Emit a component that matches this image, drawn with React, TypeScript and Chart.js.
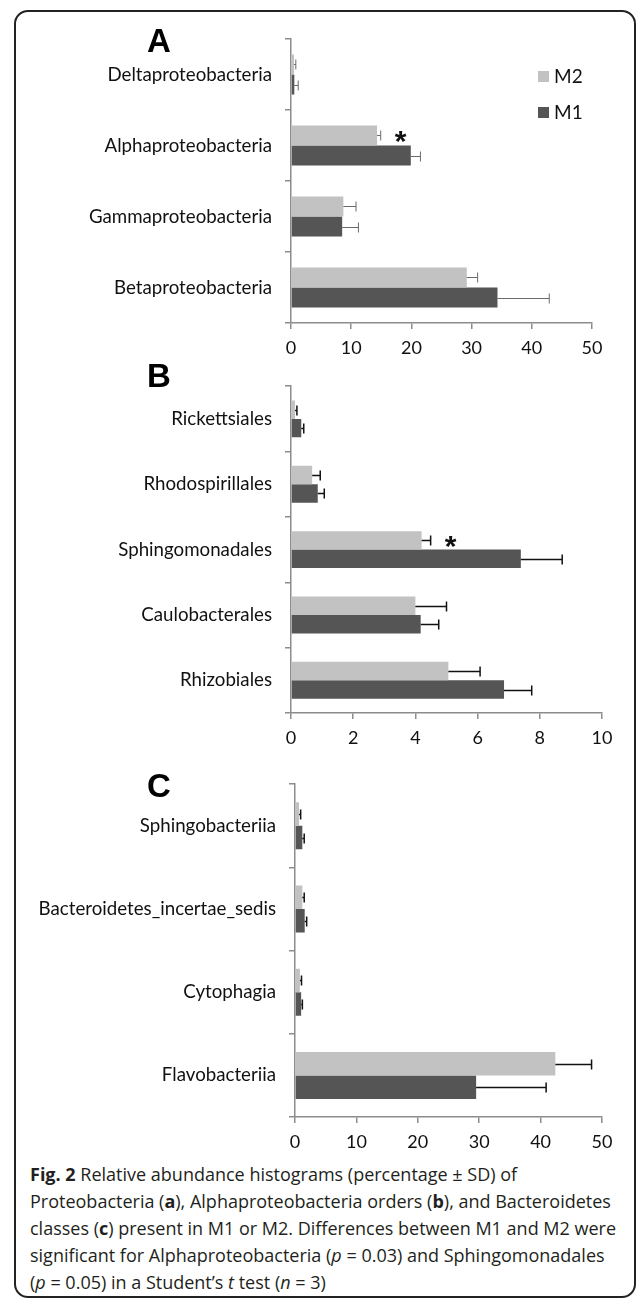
import React, { useEffect, useRef } from 'react';
import { Chart, registerables } from 'chart.js';

Chart.register(...registerables);

const M2_COLOR = '#c2c2c2';
const M1_COLOR = '#555555';
const AXIS_COLOR = '#8c8c8c';
const LABEL_FONT = 'Lato';

// Panel A – Proteobacteria classes
const catsA = ['Deltaproteobacteria', 'Alphaproteobacteria', 'Gammaproteobacteria', 'Betaproteobacteria'];
const m2A = [0.5, 14.3, 8.7, 29.2];
const m2ASd = [0.3, 0.6, 2.1, 1.8];
const m1A = [0.55, 19.9, 8.5, 34.3];
const m1ASd = [0.65, 1.6, 2.7, 8.6];
const ticksA = { max: 50, step: 10 };
const sigA = { index: 1, value: 18.2 };

// Panel B – Alphaproteobacteria orders
const catsB = ['Rickettsiales', 'Rhodospirillales', 'Sphingomonadales', 'Caulobacterales', 'Rhizobiales'];
const m2B = [0.13, 0.68, 4.2, 4.0, 5.06];
const m2BSd = [0.06, 0.26, 0.29, 1.0, 1.02];
const m1B = [0.33, 0.86, 7.39, 4.17, 6.85];
const m1BSd = [0.08, 0.21, 1.33, 0.58, 0.89];
const ticksB = { max: 10, step: 2 };
const sigB = { index: 2, value: 5.13 };

// Panel C – Bacteroidetes classes
const catsC = ['Sphingobacteriia', 'Bacteroidetes_incertae_sedis', 'Cytophagia', 'Flavobacteriia'];
const m2C = [0.66, 1.19, 0.8, 42.4];
const m2CSd = [0.26, 0.31, 0.26, 5.9];
const m1C = [1.19, 1.58, 1.0, 29.5];
const m1CSd = [0.31, 0.32, 0.2, 11.4];
const ticksC = { max: 50, step: 10 };

const seriesNames = ['M2', 'M1'];

const errorBarPlugin = {
  id: 'errorBars',
  afterDatasetsDraw(chart: any, _args: any, opts: any) {
    const ctx = chart.ctx;
    const xs = chart.scales.x;
    ctx.save();
    ctx.strokeStyle = opts.color || '#000';
    ctx.lineWidth = opts.width || 1;
    chart.data.datasets.forEach((ds: any, i: number) => {
      const meta = chart.getDatasetMeta(i);
      meta.data.forEach((bar: any, j: number) => {
        const v = ds.data[j];
        const sd = ds.sd[j];
        const x0 = xs.getPixelForValue(v);
        const x1 = xs.getPixelForValue(v + sd);
        const y = Math.round(bar.y) + 0.5;
        ctx.beginPath();
        ctx.moveTo(x0, y);
        ctx.lineTo(x1, y);
        ctx.moveTo(x1, y - (opts.cap || 5));
        ctx.lineTo(x1, y + (opts.cap || 5));
        ctx.stroke();
      });
    });
    ctx.restore();
  },
};

const sigPlugin = {
  id: 'sigMark',
  afterDatasetsDraw(chart: any, _args: any, opts: any) {
    if (!opts || opts.index === undefined || opts.index < 0) return;
    const ctx = chart.ctx;
    const xs = chart.scales.x;
    const bar = chart.getDatasetMeta(0).data[opts.index];
    if (!bar) return;
    ctx.save();
    ctx.fillStyle = '#111';
    ctx.font = 'bold 30px "Liberation Sans", Arial, sans-serif';
    ctx.textAlign = 'center';
    ctx.textBaseline = 'alphabetic';
    ctx.fillText('*', xs.getPixelForValue(opts.value), bar.y + 16);
    ctx.restore();
  },
};

type PanelProps = {
  top: number;
  height: number;
  padTop: number;
  axisH: number;
  yW: number;
  padRight: number;
  cats: string[];
  m2: number[];
  m2Sd: number[];
  m1: number[];
  m1Sd: number[];
  ticks: { max: number; step: number };
  sig?: { index: number; value: number };
  errColor: string;
  errWidth: number;
};

function Panel(p: PanelProps) {
  const ref = useRef<HTMLCanvasElement | null>(null);
  useEffect(() => {
    if (!ref.current) return;
    const chart = new Chart(ref.current, {
      type: 'bar',
      data: {
        labels: p.cats,
        datasets: [
          { label: seriesNames[0], data: p.m2, sd: p.m2Sd, backgroundColor: M2_COLOR, borderWidth: 0 } as any,
          { label: seriesNames[1], data: p.m1, sd: p.m1Sd, backgroundColor: M1_COLOR, borderWidth: 0 } as any,
        ],
      },
      options: {
        indexAxis: 'y',
        responsive: false,
        animation: false,
        devicePixelRatio: 1,
        layout: { padding: { top: p.padTop, right: p.padRight, left: 0, bottom: 0 } },
        datasets: { bar: { categoryPercentage: 0.565, barPercentage: 1 } },
        plugins: {
          legend: { display: false },
          tooltip: { enabled: false },
          errorBars: { color: p.errColor, width: p.errWidth, cap: 5 },
          sigMark: p.sig ? p.sig : { index: -1, value: 0 },
        } as any,
        scales: {
          x: {
            type: 'linear',
            min: 0,
            max: p.ticks.max,
            ticks: {
              stepSize: p.ticks.step,
              font: { family: LABEL_FONT, size: 18 },
              color: '#111',
              padding: 8,
            },
            grid: { drawOnChartArea: false, drawTicks: true, tickLength: 6, color: AXIS_COLOR, lineWidth: 1.5 },
            border: { display: true, color: AXIS_COLOR, width: 1.5 },
            afterFit: (s: any) => {
              s.height = p.axisH;
            },
          },
          y: {
            type: 'category',
            ticks: {
              font: { family: LABEL_FONT, size: 18.7 },
              color: '#111',
              padding: 13,
              autoSkip: false,
            },
            grid: { drawOnChartArea: false, drawTicks: true, tickLength: 6, color: AXIS_COLOR, lineWidth: 1.5, offset: true },
            border: { display: true, color: AXIS_COLOR, width: 1.5 },
            afterFit: (s: any) => {
              s.width = p.yW;
            },
          },
        },
      },
      plugins: [errorBarPlugin, sigPlugin],
    });
    return () => chart.destroy();
  }, []);
  return (
    <canvas
      ref={ref}
      width={636}
      height={p.height}
      style={{ position: 'absolute', left: 0, top: p.top, width: 636, height: p.height }}
    />
  );
}

const letterStyle: React.CSSProperties = {
  position: 'absolute',
  left: 147,
  fontFamily: '"Liberation Sans", Arial, sans-serif',
  fontWeight: 'bold',
  fontSize: 33,
  lineHeight: '33px',
  color: '#000',
};

export default function App() {
  return (
    <div style={{ position: 'absolute', left: 0, top: 0, width: 636, height: 1299, background: '#fff', overflow: 'hidden' }}>
      <div
        style={{
          position: 'absolute',
          left: 14,
          top: 10,
          width: 622,
          height: 1288,
          boxSizing: 'border-box',
          border: '2px solid #222',
          borderRadius: 14,
        }}
      />
      <Panel top={0} height={362} padTop={39} axisH={39} yW={291} padRight={44}
        cats={catsA} m2={m2A} m2Sd={m2ASd} m1={m1A} m1Sd={m1ASd} ticks={ticksA} sig={sigA}
        errColor="#6a6a6a" errWidth={1} />
      <Panel top={362} height={398} padTop={10} axisH={47} yW={291} padRight={34}
        cats={catsB} m2={m2B} m2Sd={m2BSd} m1={m1B} m1Sd={m1BSd} ticks={ticksB} sig={sigB}
        errColor="#111" errWidth={1.5} />
      <Panel top={760} height={400} padTop={14} axisH={43} yW={295} padRight={34}
        cats={catsC} m2={m2C} m2Sd={m2CSd} m1={m1C} m1Sd={m1CSd} ticks={ticksC}
        errColor="#111" errWidth={1.5} />

      <div style={{ ...letterStyle, top: 24 }}>A</div>
      <div style={{ ...letterStyle, top: 359 }}>B</div>
      <div style={{ ...letterStyle, top: 769 }}>C</div>

      {seriesNames.map((name, i) => (
        <div key={name} style={{ position: 'absolute', left: 538, top: 66 + i * 36, height: 20, display: 'flex', alignItems: 'center' }}>
          <div style={{ width: 11, height: 11, background: i === 0 ? M2_COLOR : M1_COLOR, marginRight: 5 }} />
          <span style={{ fontFamily: LABEL_FONT, fontSize: 19, color: '#111', lineHeight: '20px' }}>{name}</span>
        </div>
      ))}

      <div
        style={{
          position: 'absolute',
          left: 30,
          top: 1161,
          fontFamily: '"Open Sans", sans-serif',
          fontSize: 18,
          lineHeight: '27px',
          color: '#231f20',
          whiteSpace: 'nowrap',
        }}
      >
        <div><b>Fig. 2</b> Relative abundance histograms (percentage ± SD) of</div>
        <div>Proteobacteria (<b>a</b>), Alphaproteobacteria orders (<b>b</b>), and Bacteroidetes</div>
        <div>classes (<b>c</b>) present in M1 or M2. Differences between M1 and M2 were</div>
        <div>significant for Alphaproteobacteria (<i>p</i> = 0.03) and Sphingomonadales</div>
        <div>(<i>p</i> = 0.05) in a Student’s <i>t</i> test (<i>n</i> = 3)</div>
      </div>
    </div>
  );
}
